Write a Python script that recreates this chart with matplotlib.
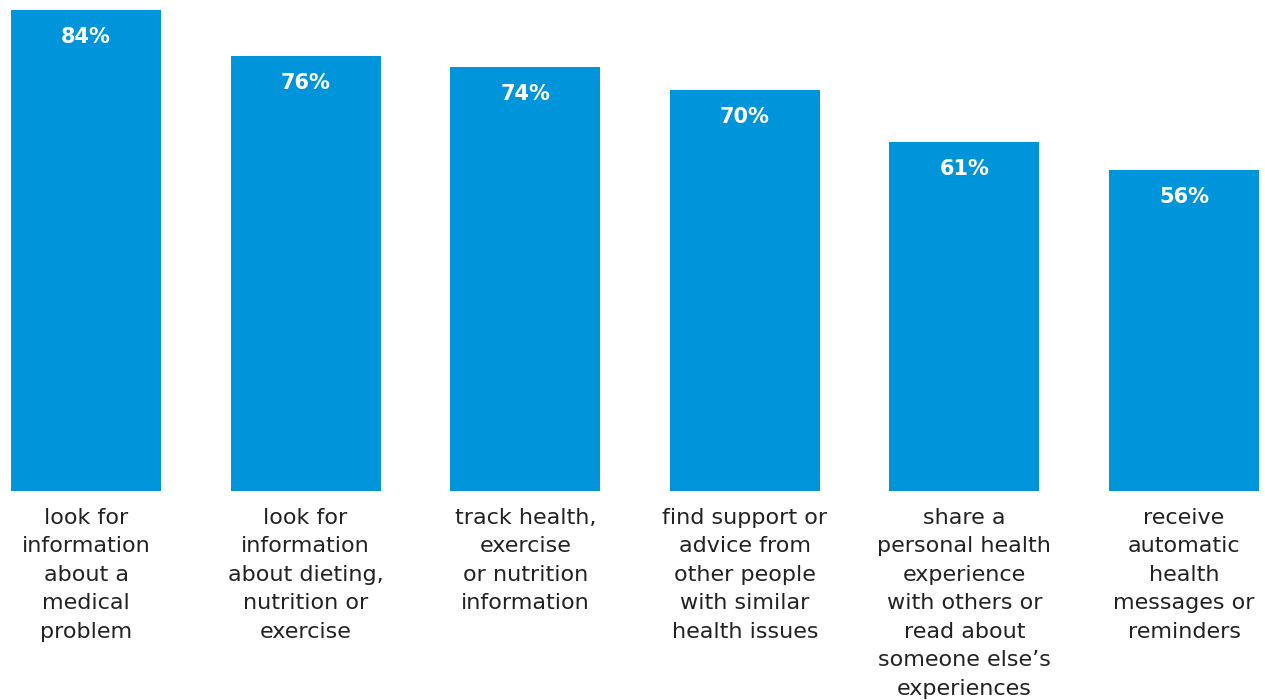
import matplotlib.pyplot as plt
import numpy as np

categories = [
    "look for\ninformation\nabout a\nmedical\nproblem",
    "look for\ninformation\nabout dieting,\nnutrition or\nexercise",
    "track health,\nexercise\nor nutrition\ninformation",
    "find support or\nadvice from\nother people\nwith similar\nhealth issues",
    "share a\npersonal health\nexperience\nwith others or\nread about\nsomeone else\u2019s\nexperiences",
    "receive\nautomatic\nhealth\nmessages or\nreminders",
]
values = [84, 76, 74, 70, 61, 56]

bar_color = "#0095DA"

fig = plt.figure(figsize=(12.65, 7), dpi=100)
# axes bottom sits at the bar baseline, top at the tallest bar
ax = fig.add_axes([0, (700 - 491) / 700, 1, 481 / 700])

x = np.arange(len(values))
pitch = 219.6
ax.bar(x, values, width=150 / pitch, color=bar_color)
ax.set_xlim(-86 / pitch, (1265 - 86) / pitch)
ax.set_ylim(0, max(values))

for xi, v in zip(x, values):
    ax.annotate(f"{v}%", (xi, v), xytext=(0, -27), textcoords="offset pixels",
                ha="center", va="center", color="white", fontsize=15,
                fontweight="bold", family="DejaVu Sans")

for xi, label in zip(x, categories):
    ax.annotate(label, (xi, 0), xytext=(0, -17), textcoords="offset pixels",
                ha="center", va="top", color="#222222", fontsize=16,
                family="DejaVu Sans", linespacing=1.53, annotation_clip=False)

ax.axis("off")
fig.savefig("out.png", dpi=100)
